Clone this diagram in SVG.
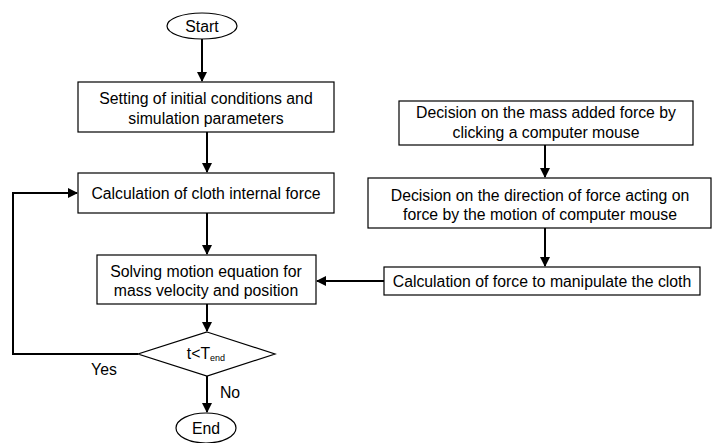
<svg xmlns="http://www.w3.org/2000/svg" width="712" height="443" viewBox="0 0 712 443">
<defs>
<marker id="ah" markerWidth="10" markerHeight="10" refX="9" refY="5" orient="auto" markerUnits="userSpaceOnUse">
<path d="M0,0 L10,5 L0,10 Z" fill="#000"/>
</marker>
<style>
.box{fill:#fff;stroke:#000;stroke-width:1.2}
.t{font-family:"Liberation Sans",Arial,sans-serif;font-size:15.8px;fill:#000;text-anchor:middle}
.c{fill:none;stroke:#000;stroke-width:2}
</style>
</defs>
<rect width="712" height="443" fill="#fff"/>
<g id="connectors">
<line class="c" x1="202" y1="39" x2="202" y2="81" marker-end="url(#ah)"/>
<line class="c" x1="207" y1="132" x2="207" y2="172" marker-end="url(#ah)"/>
<line class="c" x1="207" y1="213" x2="207" y2="254" marker-end="url(#ah)"/>
<line class="c" x1="207" y1="304" x2="207" y2="331" marker-end="url(#ah)"/>
<line class="c" x1="207" y1="376" x2="207" y2="412" marker-end="url(#ah)"/>
<polyline class="c" points="138,354 13,354 13,193 77,193" marker-end="url(#ah)"/>
<line class="c" x1="545" y1="145" x2="545" y2="177" marker-end="url(#ah)"/>
<line class="c" x1="545" y1="228" x2="545" y2="266" marker-end="url(#ah)"/>
<line class="c" x1="384" y1="281" x2="317" y2="281" marker-end="url(#ah)"/>
<text class="t" x="104" y="375">Yes</text>
<text class="t" x="230" y="398">No</text>
</g>
<g id="start">
<ellipse class="box" cx="202" cy="26" rx="35" ry="13"/>
<text class="t" x="202" y="32">Start</text>
</g>
<g id="init">
<rect class="box" x="78" y="82" width="256" height="50"/>
<text class="t" x="206" y="104">Setting of initial conditions and</text>
<text class="t" x="206" y="124">simulation parameters</text>
</g>
<g id="internal">
<rect class="box" x="78" y="173" width="256" height="40"/>
<text class="t" x="206" y="199">Calculation of cloth internal force</text>
</g>
<g id="solve">
<rect class="box" x="97" y="255" width="219" height="49"/>
<text class="t" x="206" y="277">Solving motion equation for</text>
<text class="t" x="206" y="296">mass velocity and position</text>
</g>
<g id="decision">
<polygon class="box" points="207,332 275,354 207,376 138,354"/>
<text class="t" x="206" y="359">t&lt;T<tspan font-size="9" dy="2">end</tspan></text>
</g>
<g id="end">
<ellipse class="box" cx="206" cy="428" rx="30" ry="15"/>
<text class="t" x="206" y="434">End</text>
</g>
<g id="mass">
<rect class="box" x="399" y="101" width="294" height="44"/>
<text class="t" x="546" y="118">Decision on the mass added force by</text>
<text class="t" x="546" y="138">clicking a computer mouse</text>
</g>
<g id="direction">
<rect class="box" x="368" y="178" width="343" height="50"/>
<text class="t" x="540" y="201">Decision on the direction of force acting on</text>
<text class="t" x="540" y="220">force by the motion of computer mouse</text>
</g>
<g id="manip">
<rect class="box" x="384" y="267" width="316" height="28"/>
<text class="t" x="542" y="287">Calculation of force to manipulate the cloth</text>
</g>
</svg>
